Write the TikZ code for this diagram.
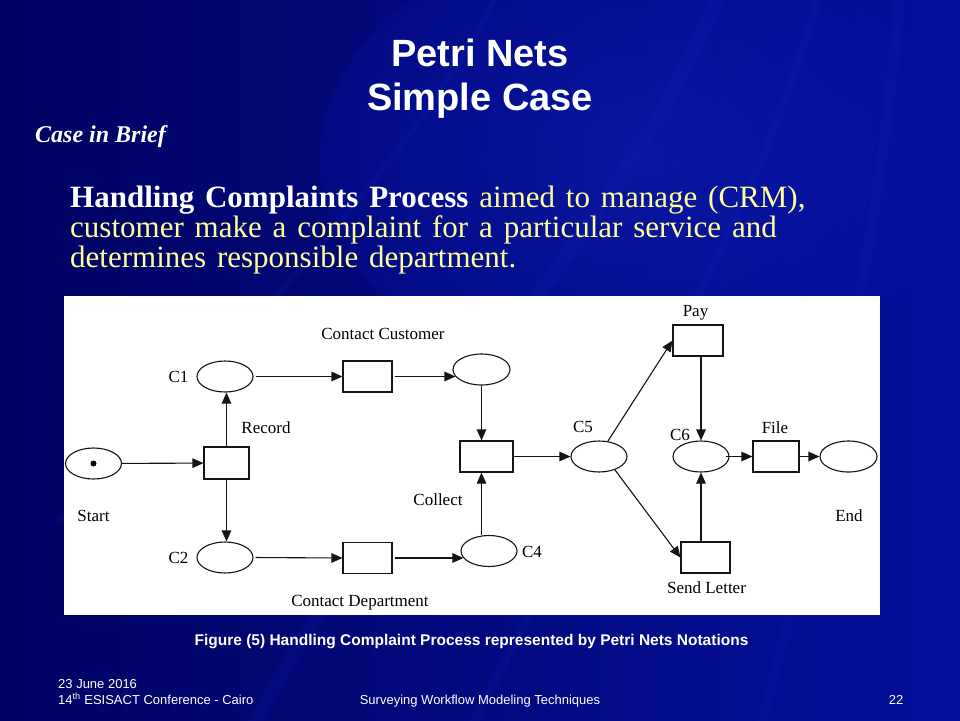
\documentclass[tikz,border=0pt]{standalone}
\usepackage{fontspec}
\setmainfont{Liberation Serif}
\newfontfamily\arialf{Liberation Sans}
\usetikzlibrary{shapes.geometric,arrows.meta,calc}
\definecolor{bgdark}{RGB}{0,2,98}
\definecolor{bgmid}{RGB}{4,16,156}
\definecolor{bglight}{RGB}{22,44,205}
\definecolor{softyellow}{RGB}{255,255,153}
\definecolor{netline}{RGB}{20,20,20}
\newcommand{\bodyfont}{\fontsize{31}{31}\selectfont\spaceskip=0.35em\relax}
\tikzset{
  place/.style={ellipse,draw=netline,line width=1.1pt,fill=white,minimum width=56pt,minimum height=31pt,inner sep=0pt},
  trans/.style={rectangle,draw=netline,line width=1.1pt,fill=white,minimum width=48pt,minimum height=31pt,inner sep=0pt},
  arc/.style={draw=netline,line width=1.1pt,-{Triangle[length=11pt,width=9.5pt]}},
  netlabel/.style={font=\fontsize{17}{17}\selectfont,text=black,inner sep=0pt,anchor=base},
  titletext/.style={font=\arialf\bfseries\fontsize{38}{38}\selectfont,text=white,inner sep=0pt,anchor=base},
  bodyline/.style={font=\bodyfont,text=softyellow,inner sep=0pt,anchor=base west},
  foot/.style={font=\arialf\fontsize{13}{13}\selectfont,text=white,inner sep=0pt},
  streak/.style={line cap=round,draw=bglight,opacity=0.12}
}
\begin{document}
\begin{tikzpicture}[x=1pt,y=-1pt]
\useasboundingbox (0,0) rectangle (960,720);
% background
\shade[left color=bgdark,right color=bgmid] (0,0) rectangle (960,720);
\shade[inner color=bglight,outer color=bgmid,opacity=0.35] (640,160) ellipse (320 and 230);
\draw[streak,line width=14pt] (720,-10) .. controls (640,200) and (420,420) .. (250,730);
\draw[streak,line width=8pt] (820,-10) .. controls (760,220) and (600,470) .. (470,730);
\draw[streak,line width=10pt] (900,-10) .. controls (880,250) and (820,500) .. (760,730);
\draw[streak,line width=6pt] (500,-10) .. controls (420,150) and (260,320) .. (60,520);
% titles
\node[titletext] (t1) at (480,66) {Petri Nets};
\node[titletext] (t2) at (480,110) {Simple Case};
\node[font=\bfseries\itshape\fontsize{24}{24}\selectfont,text=white,inner sep=0pt,anchor=base west] (brief) at (35,142) {Case in Brief};
\node[bodyline] (b1) at (70,207) {\textcolor{white}{\bfseries Handling Complaints Process} aimed to manage (CRM),};
\node[bodyline] (b2) at (70,237.5) {customer make a complaint for a particular service and};
\node[bodyline] (b3) at (70,267) {determines responsible department.};
% figure panel
\fill[white] (64,296) rectangle (880,615);
% places
\node[place] (start) at (93.5,463.5) {};
\fill[black] (start.center) circle (3pt);
\node[place] (c1) at (225,376.5) {};
\node[place] (c2) at (225,557.5) {};
\node[place,minimum width=57pt] (c3) at (481.5,369.5) {};
\node[place] (c4) at (489,551) {};
\node[place] (c5) at (599,456.5) {};
\node[place] (c6) at (701,456.5) {};
\node[place,minimum width=57pt] (endp) at (848.5,456.5) {};
% transitions
\node[trans,minimum width=45pt,minimum height=32pt] (record) at (226.5,463) {};
\node[trans,minimum width=49pt] (cc) at (367.5,376.5) {};
\node[trans,minimum width=49pt] (cd) at (367.5,558) {};
\node[trans,minimum width=53pt] (collect) at (486.5,456.5) {};
\node[trans,minimum width=50pt] (pay) at (698,340.5) {};
\node[trans,minimum width=46pt] (file) at (776,456.5) {};
\node[trans,minimum width=49pt] (sl) at (705.5,557.5) {};
% labels
\node[netlabel] (lstart) at (93.5,521) {Start};
\node[netlabel] (lrecord) at (266,433) {Record};
\node[netlabel] (lc1) at (178.5,382) {C1};
\node[netlabel] (lc2) at (178.5,563) {C2};
\node[netlabel] (lcc) at (383,339) {Contact Customer};
\node[netlabel] (lcd) at (360,606) {Contact Department};
\node[netlabel] (lcollect) at (438,505) {Collect};
\node[netlabel] (lc4) at (532,557) {C4};
\node[netlabel] (lc5) at (583,432) {C5};
\node[netlabel] (lpay) at (695.5,316) {Pay};
\node[netlabel] (lc6) at (680,440) {C6};
\node[netlabel] (lfile) at (775,433) {File};
\node[netlabel] (lend) at (849,521) {End};
\node[netlabel] (lsl) at (706.5,593) {Send Letter};
% arcs
\draw[arc] (start) -- (record);
\draw[arc] (record.north) -- (record.north |- c1.south);
\draw[arc] (record.south) -- (record.south |- c2.north);
\draw[arc,shorten <=2pt] (c1.east) -- (cc.west);
\draw[arc,shorten <=2pt,shorten >=-3pt] (cc.east) -- (cc.east -| c3.west);
\draw[arc] (c3.south) -- (c3.south |- collect.north);
\draw[arc,shorten <=2pt] (c2.east) -- (cd.west);
\draw[arc,shorten <=2pt,shorten >=-3pt] (cd.east) -- (cd.east -| c4.west);
\draw[arc] (c4.north -| c3.south) -- (collect.south -| c3.south);
\draw[arc] (collect.east) -- (c5.west);
\draw[arc] (c5.60) -- (pay.west);
\draw[arc] (c5.-40) -- (sl.west);
\draw[arc] (pay.south -| c6.north) -- (c6.north);
\draw[arc] (sl.north -| c6.south) -- (c6.south);
\draw[arc] ([xshift=-4pt]c6.east) -- (file.west);
\draw[arc] (file.east) -- (endp.west);
% caption and footer
\node[font=\arialf\bfseries\fontsize{15.5}{15.5}\selectfont,text=white,inner sep=0pt,anchor=base] (caption) at (471.5,645) {Figure (5) Handling Complaint Process represented by Petri Nets Notations};
\node[foot,anchor=base west] (date) at (58,688) {23 June 2016};
\node[foot,anchor=base west] (conf) at (58,704) {14\textsuperscript{th} ESISACT Conference - Cairo};
\node[foot,anchor=base] (topic) at (480,704) {Surveying Workflow Modeling Techniques};
\node[foot,anchor=base] (page) at (896,704) {22};
\end{tikzpicture}
\end{document}
